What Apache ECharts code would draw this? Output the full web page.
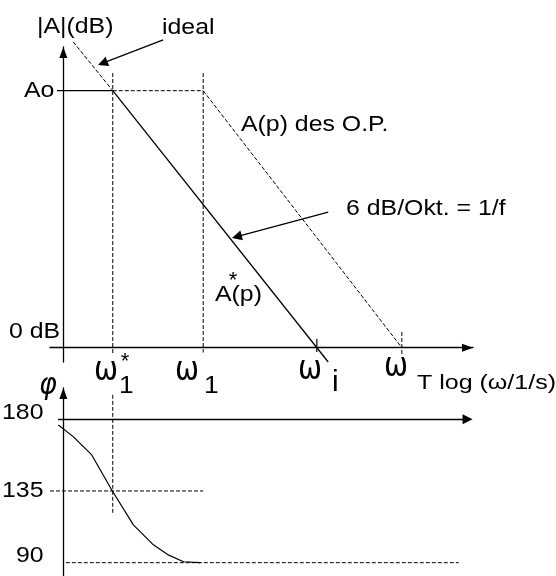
<!DOCTYPE html>
<html>
<head>
<meta charset="utf-8">
<script src="https://cdn.jsdelivr.net/npm/echarts@6/dist/echarts.min.js"></script>
<style>
html,body{margin:0;padding:0;background:#fff;}
#c{width:556px;height:576px;}
</style>
</head>
<body>
<div id="c"></div>
<script>
// ---- data (log-frequency axis in decades, magnitude in dB, phase in degrees) ----
const logW1Star = 1.0;   // ω1*
const logW1 = 2.83;      // ω1
const logWi = 5.13;      // ωi
const logWT = 6.85;      // ωT
const A0 = 80;           // Ao (dB)
const idealLine = [[0.2, 95.2], [logW1Star, A0]];
const aStarLine = [[logW1Star, A0], [5.36, -4.45]];
const aOPLine = [[logW1, A0], [logWT, 0]];
const aoSolid = [[-0.13, A0], [logW1Star, A0]];
const aoDashed = [[logW1Star, A0], [logW1, A0]];
const phaseX = [-0.10, 0.20, 0.575, 0.98, 1.417, 1.822, 2.125, 2.43, 2.77];
const phaseY = [176.4, 169.1, 157.6, 135.6, 113.7, 101.2, 94.9, 90.6, 90.0];
const phaseLevels = [180, 135, 90];

const xMin = -0.27, xMax = 8.29;
const SANS = 'Liberation Sans';
const GREEK = 'DejaVu Sans';

function seg(data, dashed, gi, w) {
  return {
    type: 'line', xAxisIndex: gi, yAxisIndex: gi, data: data,
    symbol: 'none', showSymbol: false, clip: false, silent: true,
    lineStyle: { color: '#000', width: w || 1, type: dashed ? [4, 2] : 'solid' },
    z: 3
  };
}
function arrow(from, to, gi) {
  return {
    type: 'lines', coordinateSystem: 'cartesian2d', xAxisIndex: gi, yAxisIndex: gi,
    symbol: ['none', 'triangle'], symbolSize: 10, silent: true, clip: false,
    lineStyle: { color: '#000', width: 1.3, opacity: 1, curveness: 0 },
    data: [{ coords: [from, to] }], z: 4
  };
}
function txt(s, x, y, opt) {
  opt = opt || {};
  return {
    type: 'text', x: x, y: y + 1, scaleX: opt.sx || 1.13, scaleY: opt.sy || 1, silent: true, z: 10,
    style: {
      text: s, fill: '#000',
      fontSize: opt.size || 22, fontFamily: opt.family || SANS, fontStyle: opt.style || 'normal',
      fontWeight: 'normal',
      textAlign: opt.align || 'left', textVerticalAlign: 'middle'
    }
  };
}
const omega = (x, y) => txt('ω', x, y, { align: 'center', size: 25, sx: 1.15, sy: 1.35, family: GREEK });

const series = [
  seg(idealLine, true, 0),
  seg(aoSolid, false, 0, 1.3),
  seg(aoDashed, true, 0),
  seg(aStarLine, false, 0, 1.3),
  seg(aOPLine, true, 0),
  seg([[logW1Star, 85.5], [logW1Star, -2.3]], true, 0),
  seg([[logW1, 85.5], [logW1, -1.5]], true, 0),
  seg([[logWi, 2.7], [logWi, -1.3]], false, 0, 1.2),
  seg([[logWT, 4.9], [logWT, -2.3]], true, 0),
  arrow([2.02, 95.8], [0.797, 88.56], 0),
  arrow([5.36, 42.2], [3.51, 34.55], 0),
  // phase plot
  seg(phaseX.map((x, i) => [x, phaseY[i]]), false, 1, 1.2),
  arrow([-0.107, phaseLevels[0]], [8.18, phaseLevels[0]], 1),
  seg([[xMin, phaseLevels[1]], [logW1, phaseLevels[1]]], true, 1),
  seg([[0.05, phaseLevels[2]], [8.0, phaseLevels[2]]], true, 1),
  seg([[logW1Star, 195.3], [logW1Star, 120.6]], true, 1)
];

const axisLineStyle = { color: '#000', width: 1.3 };
const hidden = { axisTick: { show: false }, axisLabel: { show: false }, splitLine: { show: false } };
const arrowLine = { show: true, onZero: true, lineStyle: axisLineStyle, symbol: ['none', 'triangle'], symbolSize: [8, 11], symbolOffset: [0, -5.5] };

const option = {
  animation: false,
  backgroundColor: '#fff',
  grid: [
    { left: 50, right: 83, top: 47, bottom: 214 },
    { left: 50, right: 83, top: 388, bottom: 0 }
  ],
  xAxis: [
    Object.assign({ type: 'value', gridIndex: 0, min: xMin, max: xMax, axisLine: arrowLine }, hidden),
    Object.assign({ type: 'value', gridIndex: 1, min: xMin, max: xMax, show: false }, hidden)
  ],
  yAxis: [
    Object.assign({ type: 'value', gridIndex: 0, min: -4.45, max: 93.6, axisLine: arrowLine }, hidden),
    Object.assign({ type: 'value', gridIndex: 1, min: 81.65, max: 199.6, axisLine: arrowLine }, hidden)
  ],
  series: series,
  graphic: [
    txt('|A|(dB)', 37, 25.5),
    txt('ideal', 162, 26.5),
    txt('Ao', 24, 89.5),
    txt('A(p) des O.P.', 241, 123.5),
    txt('6 dB/Okt. = 1/f', 346, 207.5),
    txt('A(p)', 215, 293.5),
    txt('*', 233, 279.7, { align: 'center', sx: 1 }),
    txt('0 dB', 9, 330.5),
    omega(106, 370),
    txt('1', 119, 385, { size: 24, sx: 1.1 }),
    txt('*', 125, 361, { align: 'center', sx: 1 }),
    omega(187, 370),
    txt('1', 204, 385, { size: 24, sx: 1.1 }),
    omega(310, 369),
    txt('i', 332, 382, { size: 30, sx: 1 }),
    omega(396, 366),
    txt('T log (ω/1/s)', 417, 382.5, { size: 20, sx: 1.25 }),
    txt('φ', 48, 385, { align: 'center', size: 30, style: 'italic', sx: 0.9, family: GREEK }),
    txt(String(phaseLevels[0]), 2, 412),
    txt(String(phaseLevels[1]), 2, 490),
    txt(String(phaseLevels[2]), 16, 555)
  ]
};
echarts.init(document.getElementById('c'), null, { renderer: 'canvas' }).setOption(option);
</script>
</body>
</html>
